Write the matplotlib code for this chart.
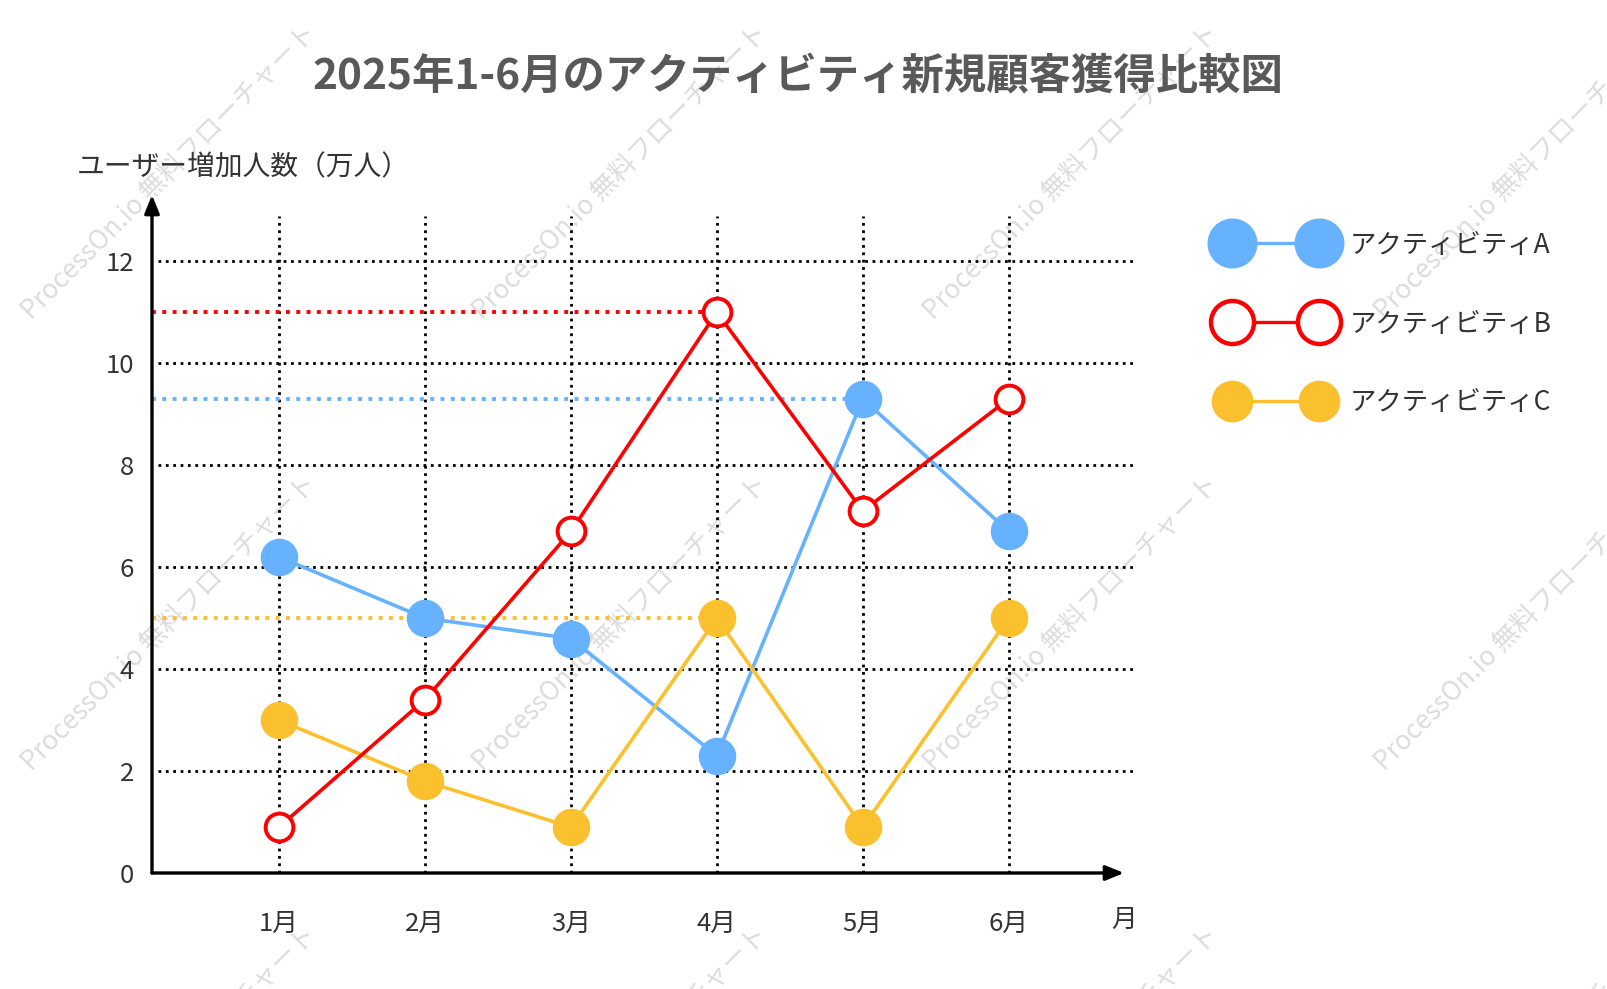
import matplotlib
matplotlib.use("Agg")
import matplotlib.pyplot as plt
from matplotlib.lines import Line2D
import numpy as np

plt.rcParams['font.family'] = ['Noto Sans CJK JP', 'DejaVu Sans']

# ---- data ----
months = ["1月", "2月", "3月", "4月", "5月", "6月"]
series_names = ["アクティビティA", "アクティビティB", "アクティビティC"]
values_a = [6.2, 5.0, 4.6, 2.3, 9.3, 6.7]
values_b = [0.9, 3.4, 6.7, 11.0, 7.1, 9.3]
values_c = [3.0, 1.8, 0.9, 5.0, 0.9, 5.0]
y_ticks = [0, 2, 4, 6, 8, 10, 12]

title = "2025年1-6月のアクティビティ新規顧客獲得比較図"
y_label = "ユーザー増加人数（万人）"
x_unit = "月"
watermark = "ProcessOn.io 無料フローチャート"

col_a = "#66B2FF"
col_b = "#FF0000"
col_c = "#FBC02D"
text_col = "#333333"

W, H = 1607, 989
fig = plt.figure(figsize=(W / 100, H / 100), dpi=100)

# watermark (behind)
for i in range(4):
    for j in range(3):
        cx = (169 + 451 * i) / W
        cy = 1 - (172 + 451 * j) / H
        fig.text(cx, cy, watermark, rotation=45, ha='center', va='center',
                 fontsize=19, color='#dcdcdc', zorder=-5)

# axes placement: left at x=152px, bottom y=873px, right 1124px, top 195px
ax = fig.add_axes([152 / W, 1 - 873 / H, (1124 - 152) / W, (873 - 195) / H])
ax.patch.set_visible(False)

x = np.arange(1, len(months) + 1)
xl, xr = 0.13, 6.79
ax.set_xlim(xl, xr)
ax.set_ylim(0, 13.3)

for s in ax.spines.values():
    s.set_visible(False)

# grid lines
grid_kw = dict(color='black', linestyle=':', linewidth=2.0, zorder=1)
for yv in y_ticks[1:]:
    ax.plot([xl + 0.04, 6.87], [yv, yv], clip_on=False, **grid_kw)
for xv in x:
    ax.plot([xv, xv], [0, 12.89], clip_on=False, **grid_kw)

# axis arrows
ax.annotate("", xy=(1.0, 0), xytext=(0, 0), xycoords='axes fraction',
            arrowprops=dict(arrowstyle='-|>,head_length=1.1,head_width=0.45',
                            color='black', lw=2.4, shrinkA=0, shrinkB=0), zorder=6)
ax.annotate("", xy=(0, 1.0), xytext=(0, 0), xycoords='axes fraction',
            arrowprops=dict(arrowstyle='-|>,head_length=1.1,head_width=0.45',
                            color='black', lw=2.4, shrinkA=0, shrinkB=0), zorder=6)

# max reference lines
for vals, col in [(values_b, col_b), (values_a, col_a), (values_c, col_c)]:
    k = int(np.argmax(vals))
    ax.plot([xl, x[k]], [vals[k], vals[k]], color=col, linestyle=':',
            linewidth=2.8, zorder=2)

# series
ax.plot(x, values_a, color=col_a, lw=2.6, marker='o', ms=26,
        mfc=col_a, mec=col_a, zorder=4)
ax.plot(x, values_c, color=col_c, lw=2.6, marker='o', ms=26,
        mfc=col_c, mec=col_c, zorder=4)
ax.plot(x, values_b, color=col_b, lw=2.6, marker='o', ms=20,
        mfc='white', mec=col_b, mew=2.8, zorder=5)

# ticks
ax.set_yticks(y_ticks)
ax.set_yticklabels([str(v) for v in y_ticks])
ax.set_xticks(x)
ax.set_xticklabels(months)
ax.tick_params(axis='y', length=0, pad=13, labelsize=18.5, labelcolor=text_col)
ax.tick_params(axis='x', length=0, pad=27, labelsize=18.5, labelcolor=text_col)

ax.text(1.0, -0.069, x_unit, transform=ax.transAxes, ha='center', va='center',
        fontsize=18.5, color=text_col)
ax.text(0.094, 1.041, y_label, transform=ax.transAxes, ha='center',
        va='center', fontsize=20, color=text_col)

fig.text(798 / W, 1 - 77 / H, title, ha='center', va='center', fontsize=30.5,
         fontweight='bold', color='#595959')

# legend
handles = [
    Line2D([0], [0], color=col_a, lw=2.4, marker='o', ms=35, mfc=col_a, mec=col_a),
    Line2D([0], [0], color=col_b, lw=2.4, marker='o', ms=31, mfc='white',
           mec=col_b, mew=3.2),
    Line2D([0], [0], color=col_c, lw=2.4, marker='o', ms=29, mfc=col_c, mec=col_c),
]
leg = fig.legend(handles, series_names, loc='center left',
                 bbox_to_anchor=(1224 / W, 1 - 324 / H), frameon=False,
                 numpoints=2, handlelength=3.9, handletextpad=0.85,
                 labelspacing=1.97, borderpad=0, borderaxespad=0,
                 fontsize=19, labelcolor=text_col)

fig.savefig("out.png", dpi=100)
